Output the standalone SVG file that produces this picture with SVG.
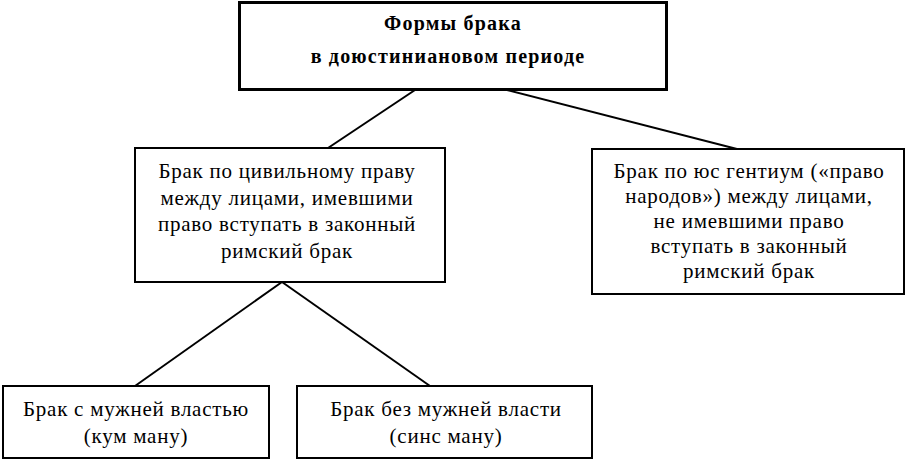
<svg xmlns="http://www.w3.org/2000/svg" width="905" height="461" viewBox="0 0 905 461">
<style>
.box{fill:#fff;stroke:#000;stroke-width:2}
.t{font-family:"Liberation Serif","Times New Roman",serif;font-size:21px;letter-spacing:0.75px;fill:#000;text-anchor:middle}
.b{font-weight:bold;font-size:20px;letter-spacing:1.2px}
.c{stroke:#000;stroke-width:2;fill:none}
</style>
<rect width="905" height="461" fill="#fff"/>
<g id="connectors">
<line class="c" x1="415" y1="90" x2="328" y2="148"/>
<line class="c" x1="507" y1="90" x2="737" y2="149"/>
<line class="c" x1="282" y1="282" x2="135" y2="386"/>
<line class="c" x1="282" y1="282" x2="430" y2="386"/>
</g>
<g id="root">
<rect class="box" x="239.5" y="2.5" width="427" height="87" style="stroke-width:3"/>
<text class="t b" x="453" y="30">Формы брака</text>
<text class="t b" x="448" y="63">в доюстиниановом периоде</text>
</g>
<g id="civil">
<rect class="box" x="135" y="148" width="310" height="134"/>
<text class="t" x="287" y="178">Брак по цивильному праву</text>
<text class="t" x="287" y="205">между лицами, имевшими</text>
<text class="t" x="287" y="231">право вступать в законный</text>
<text class="t" x="287" y="258">римский брак</text>
</g>
<g id="gentium">
<rect class="box" x="592" y="149" width="312" height="145"/>
<text class="t" x="749" y="178">Брак по юс гентиум («право</text>
<text class="t" x="749" y="203">народов») между лицами,</text>
<text class="t" x="749" y="228">не имевшими право</text>
<text class="t" x="749" y="253">вступать в законный</text>
<text class="t" x="749" y="278">римский брак</text>
</g>
<g id="cum">
<rect class="box" x="3" y="386" width="266" height="72"/>
<text class="t" x="136" y="416">Брак с мужней властью</text>
<text class="t" x="136" y="443">(кум ману)</text>
</g>
<g id="sine">
<rect class="box" x="297" y="386" width="295" height="72"/>
<text class="t" x="446" y="416">Брак без мужней власти</text>
<text class="t" x="446" y="443">(синс ману)</text>
</g>
</svg>
